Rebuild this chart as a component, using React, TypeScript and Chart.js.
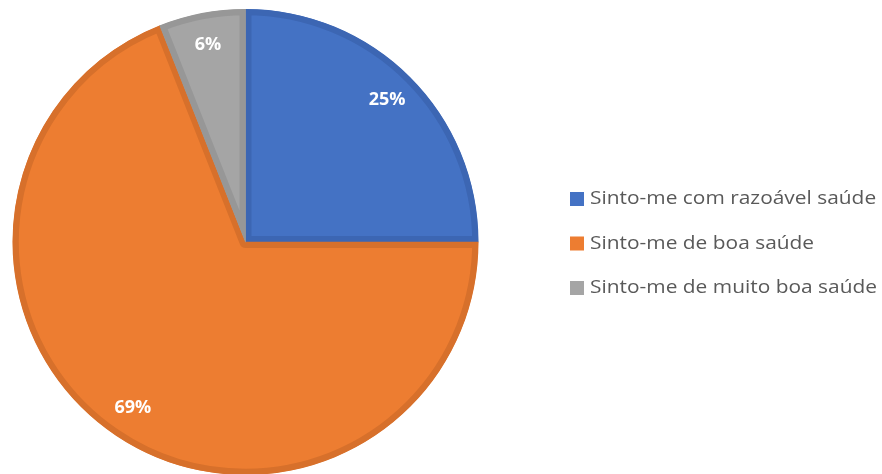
import React, { useEffect, useRef } from "react";
import { Chart, registerables } from "chart.js";

Chart.register(...registerables);

const categories = [
  "Sinto-me com razoável saúde",
  "Sinto-me de boa saúde",
  "Sinto-me de muito boa saúde",
];
const values = [25, 69, 6];
const valueLabels = ["25%", "69%", "6%"];
const fillColors = ["#4472C4", "#ED7D31", "#A5A5A5"];
const borderColors = ["#3C66B3", "#D7702B", "#979797"];

const FONT = "'Open Sans', Lato, sans-serif";

const labelPlugin = {
  id: "sliceLabels",
  afterDatasetsDraw(chart: any) {
    const ctx = chart.ctx;
    const meta = chart.getDatasetMeta(0);
    ctx.save();
    ctx.fillStyle = "#FFFFFF";
    ctx.font = `bold 18px ${FONT}`;
    ctx.textAlign = "center";
    ctx.textBaseline = "middle";
    meta.data.forEach((arc: any, i: number) => {
      const { x, y, startAngle, endAngle, outerRadius } = arc.getProps(
        ["x", "y", "startAngle", "endAngle", "outerRadius"],
        true
      );
      const mid = (startAngle + endAngle) / 2;
      const r = outerRadius * 0.86;
      ctx.fillText(valueLabels[i], x + Math.cos(mid) * r, y + Math.sin(mid) * r);
    });
    ctx.restore();
  },
};

const legendPlugin = {
  id: "sideLegend",
  afterDraw(chart: any) {
    const ctx = chart.ctx;
    ctx.save();
    ctx.font = `19px ${FONT}`;
    ctx.textBaseline = "middle";
    ctx.textAlign = "left";
    const x0 = 570;
    const yStart = 199;
    const step = 44.5;
    const widest = Math.max(...categories.map((c) => ctx.measureText(c).width));
    const sx = 287 / widest;
    categories.forEach((c, i) => {
      const y = yStart + i * step;
      ctx.fillStyle = fillColors[i];
      ctx.fillRect(x0, y - 7, 14, 14);
      ctx.fillStyle = "#595959";
      ctx.save();
      ctx.translate(x0 + 20, y);
      ctx.scale(sx, 1);
      ctx.fillText(c, 0, 0);
      ctx.restore();
    });
    ctx.restore();
  },
};

export default function App() {
  const ref = useRef<HTMLCanvasElement>(null);
  useEffect(() => {
    document.body.style.margin = "0";
    const canvas = ref.current!;
    const chart = new Chart(canvas, {
      type: "pie",
      data: {
        labels: categories,
        datasets: [
          {
            data: values,
            backgroundColor: fillColors,
            borderColor: borderColors,
            borderWidth: 6,
            borderAlign: "inner",
          } as any,
        ],
      },
      options: {
        animation: false,
        responsive: false,
        maintainAspectRatio: false,
        radius: 233,
        layout: { padding: { left: 0, right: 391, top: 10, bottom: 0 } },
        plugins: {
          legend: { display: false },
          tooltip: { enabled: false },
        },
      } as any,
      plugins: [labelPlugin, legendPlugin],
    });
    return () => chart.destroy();
  }, []);
  return (
    <div style={{ width: 882, height: 474, background: "#fff" }}>
      <canvas ref={ref} width={882} height={474} />
    </div>
  );
}
